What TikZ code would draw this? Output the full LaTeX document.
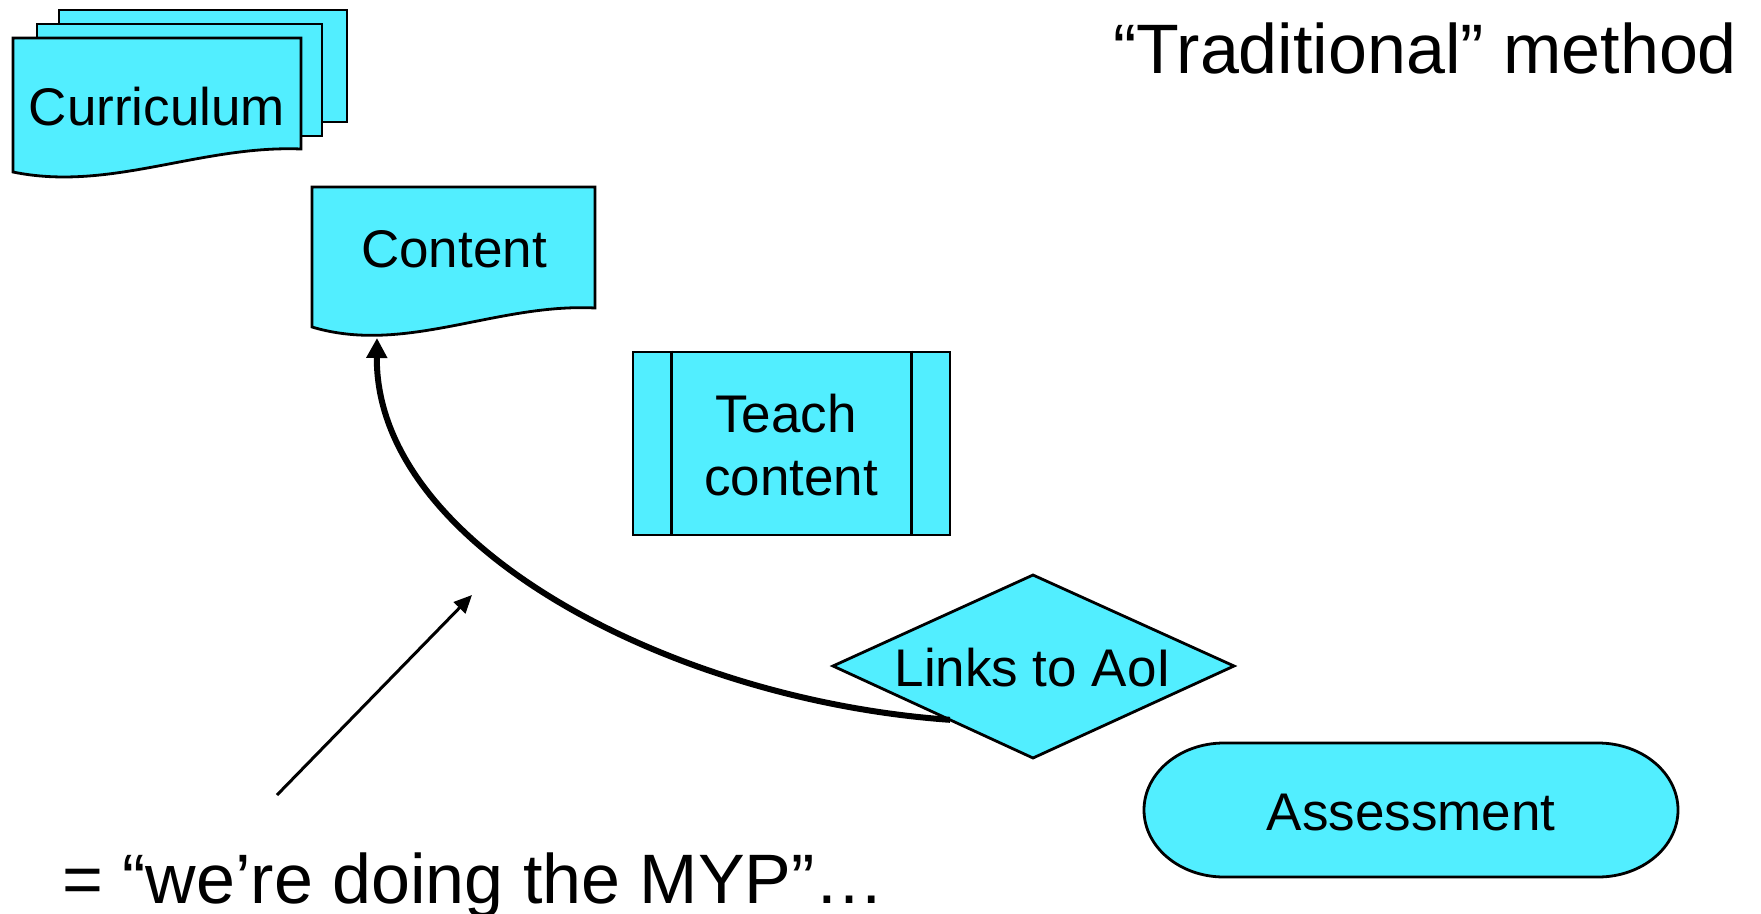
\documentclass[tikz,border=0pt]{standalone}
\usepackage{fontspec}
\setmainfont{Liberation Sans}
\usetikzlibrary{arrows.meta,calc}
\definecolor{cyanfill}{RGB}{82,238,255}
\tikzset{
  shapefill/.style={fill=cyanfill, draw=black, line width=2.8pt, line join=miter},
  lbl/.style={font=\fontsize{53}{63}\selectfont, inner sep=0pt, anchor=base},
  bigtxt/.style={font=\fontsize{70}{84}\selectfont, inner sep=0pt, anchor=base west},
  flow/.style={line width=6pt, -{Triangle[length=20pt,width=20pt]}},
  pointer/.style={line width=3pt, -{Triangle[length=18pt,width=16pt]}},
}
\begin{document}
\begin{tikzpicture}[x=1pt,y=-1pt]
\useasboundingbox (0,0) rectangle (1761,913);

% Curriculum (stacked documents)
\path[shapefill] (59,10) rectangle (347,122);
\path[shapefill] (37,24) rectangle (322,136);
\path[shapefill] (13,38) -- (301,38) -- (301,149)
  .. controls (200,145) and (110,192) .. (13,172) -- cycle;
\node[lbl] (curr) at (157,125) {Curriculum};

% Content (document)
\path[shapefill] (312,187) -- (595,187) -- (595,308)
  .. controls (496,303) and (405,355) .. (312,327) -- cycle;
\node[lbl] (content) at (454,267) {Content};
\coordinate (cin) at (377,338);

% Teach content (predefined process)
\node[shapefill, minimum width=317pt, minimum height=183pt, inner sep=0pt] (teach) at (791.5,443.5) {};
\draw[line width=2.8pt] ([xshift=40pt]teach.north west) -- ([xshift=40pt]teach.south west);
\draw[line width=2.8pt] ([xshift=-40pt]teach.north east) -- ([xshift=-40pt]teach.south east);
\node[lbl] (teachA) at (786,432) {Teach};
\node[lbl] (teachB) at (791,495) {content};

% Links to AoI (decision)
\coordinate (dN) at (1033,575);
\coordinate (dE) at (1234,666);
\coordinate (dS) at (1033,758);
\coordinate (dW) at (833,666);
\path[shapefill] (dN) -- (dE) -- (dS) -- (dW) -- cycle;
\node[lbl] (links) at (1033,686) {Links to AoI};

% Assessment (terminator)
\path[shapefill] (1224,743) -- (1598,743)
  .. controls (1642.2,743) and (1678,773) .. (1678,810)
  .. controls (1678,847) and (1642.2,877) .. (1598,877)
  -- (1224,877)
  .. controls (1179.8,877) and (1144,847) .. (1144,810)
  .. controls (1144,773) and (1179.8,743) .. (1224,743) -- cycle;
\node[lbl] (assess) at (1411,830) {Assessment};

% Connectors
\coordinate (lstart) at ($(dW)!0.585!(dS)$);
\draw[flow] (lstart) .. controls (670,700) and (375,545) .. (cin);

\coordinate (ptrStart) at (277,795);
\coordinate (ptrEnd) at (472,595);
\draw[pointer] (ptrStart) -- (ptrEnd);

% Titles
\node[bigtxt] (title) at (1113,73) {“Traditional” method};
\node[bigtxt] (note) at (62,903) {= “we’re doing the MYP”…};
\end{tikzpicture}
\end{document}
